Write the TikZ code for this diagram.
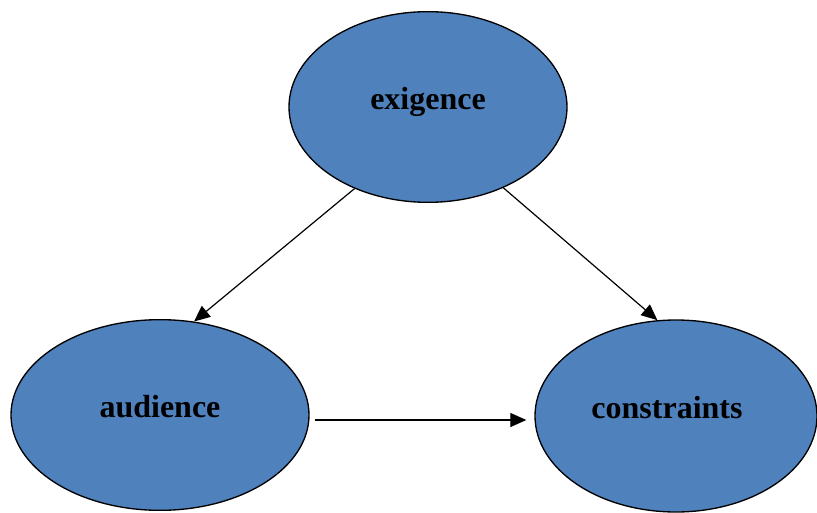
\documentclass[tikz,border=0pt]{standalone}
\usepackage{fontspec}
\setmainfont{Liberation Serif}
\usetikzlibrary{arrows.meta, shapes.geometric}

\begin{document}
\begin{tikzpicture}[x=0.75pt, y=-0.75pt, >={Triangle[length=12pt, width=10.5pt]},
    every node/.style={align=center},
    oval/.style={ellipse, draw=black, line width=1pt, fill=ovalbg, inner sep=0pt,
      text height=12pt, text depth=8.5pt,
      font=\fontsize{24}{28}\selectfont\bfseries},
    link/.style={->, line width=0.9pt}]
      \definecolor{ovalbg}{HTML}{4F81BD}
      \useasboundingbox (0, 0) rectangle (817, 513);
      \node[oval, minimum width=208.5pt, minimum height=143pt] (exig) at (428, 107) {exigence};
      \node[oval, minimum width=223.5pt, minimum height=143pt] (aud) at (160, 415) {audience};
      \node[oval, minimum width=211.5pt, minimum height=144pt] (cons) at (676, 416) {constraints\hspace*{13.5pt}};
      \draw[link] (exig.228.5) -- (aud.70);
      \draw[link] (exig.313) -- (cons.101);
      \draw[link] ([shift={(5, 5)}]aud.east) -- ([shift={(-8, 4)}]cons.west);
\end{tikzpicture}
\end{document}
